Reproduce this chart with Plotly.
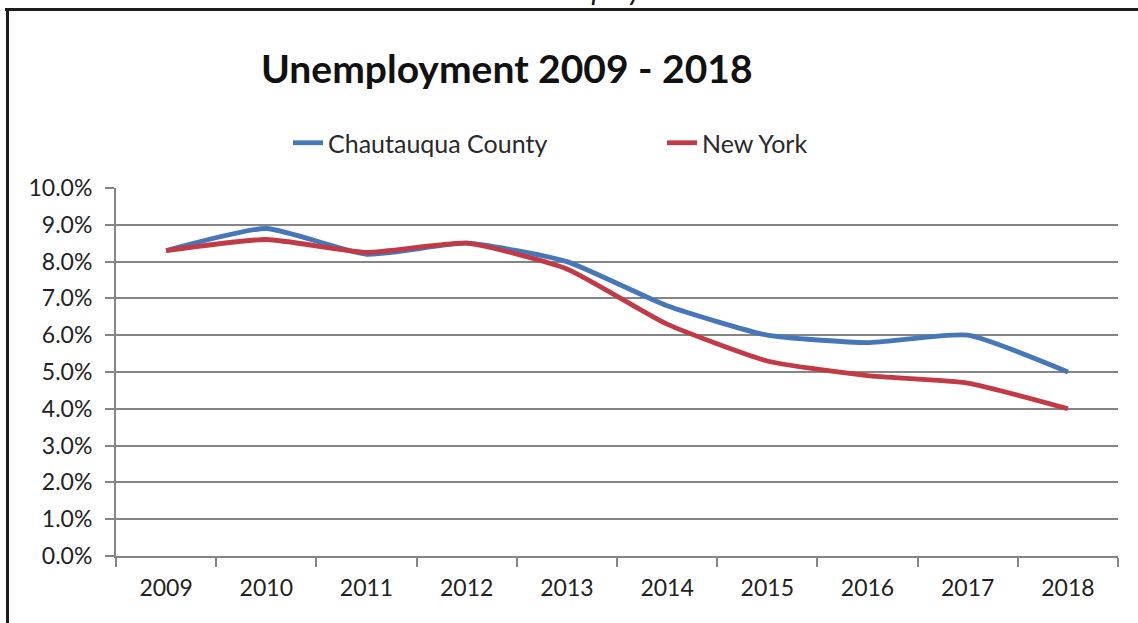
import plotly.graph_objects as go

# Annual unemployment rate (%)
years = ["2009", "2010", "2011", "2012", "2013", "2014", "2015", "2016", "2017", "2018"]
chautauqua = [8.3, 8.9, 8.2, 8.5, 8.0, 6.8, 6.0, 5.8, 6.0, 5.0]
new_york = [8.3, 8.6, 8.25, 8.5, 7.8, 6.3, 5.3, 4.9, 4.7, 4.0]
y_ticks = [0, 1, 2, 3, 4, 5, 6, 7, 8, 9, 10]

W, H = 1138, 623
ML, MR, MT, MB = 116, 20, 188, 67
PW, PH = W - ML - MR, H - MT - MB


def px(x):
    return (x - ML) / PW


def py(y):
    return (H - MB - y) / PH


FONT = "Lato"
BLUE = "#4677B8"
RED = "#C23A45"
GRID = "#858585"

fig = go.Figure()
fig.add_trace(go.Scatter(
    x=years, y=chautauqua, name="Chautauqua County", mode="lines",
    line=dict(color=BLUE, width=4.8, shape="spline", smoothing=0.5),
))
fig.add_trace(go.Scatter(
    x=years, y=new_york, name="New York", mode="lines",
    line=dict(color=RED, width=4.8, shape="spline", smoothing=0.5),
))

fig.update_layout(
    width=W, height=H,
    margin=dict(l=ML, r=MR, t=MT, b=MB, pad=0),
    paper_bgcolor="white", plot_bgcolor="white",
    font=dict(family=FONT, color="#222222"),
    showlegend=True,
    legend=dict(
        orientation="h", x=px(288), y=py(143), xanchor="left", yanchor="middle",
        font=dict(family=FONT, size=25, color="#2a2a2a"),
        entrywidth=329, entrywidthmode="pixels",
        bgcolor="rgba(0,0,0,0)", traceorder="normal",
    ),
)

fig.update_xaxes(
    type="category", range=[-0.5, 9.5],
    showline=True, linecolor=GRID, linewidth=2,
    ticks="outside", ticklen=9, tickwidth=1.5, tickcolor=GRID,
    tickson="boundaries", showgrid=False,
    tickfont=dict(family=FONT, size=23, color="#222222"),
    ticklabelstandoff=10,
)
fig.update_yaxes(
    range=[0, 10], tickvals=y_ticks,
    ticktext=[f"{v:.1f}%" for v in y_ticks],
    showline=True, linecolor=GRID, linewidth=2,
    ticks="outside", ticklen=9, tickwidth=1.5, tickcolor=GRID,
    showgrid=True, gridcolor=GRID, gridwidth=1.6,
    zeroline=False,
    tickfont=dict(family=FONT, size=23, color="#222222"),
    ticklabelstandoff=8,
)

# Chart title
fig.add_annotation(
    text="<b>Unemployment 2009 - 2018</b>", x=px(507), y=py(68),
    xref="paper", yref="paper", xanchor="center", yanchor="middle",
    showarrow=False, font=dict(family=FONT, size=39, color="#111111"),
)

# Heading above the framed chart
fig.add_annotation(
    text="<i>Unemployment</i>", x=px(612), y=py(8),
    xref="paper", yref="paper", xanchor="center", yanchor="bottom",
    showarrow=False, font=dict(family=FONT, size=29, color="#111111"),
)

# Frame around the chart
fig.add_shape(type="line", xref="paper", yref="paper",
              x0=px(5), x1=px(W + 5), y0=py(9.5), y1=py(9.5),
              line=dict(color="#1c1c1c", width=3))
fig.add_shape(type="line", xref="paper", yref="paper",
              x0=px(7.5), x1=px(7.5), y0=py(8), y1=py(H + 5),
              line=dict(color="#1c1c1c", width=3))

fig.write_html("out.html")
